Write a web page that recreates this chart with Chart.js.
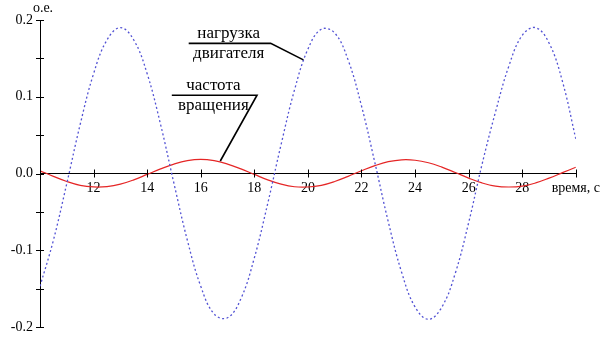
<!DOCTYPE html>
<html>
<head>
<meta charset="utf-8">
<script src="https://cdn.jsdelivr.net/npm/chart.js@4"></script>
<style>
  html, body { margin: 0; padding: 0; background: #fff; }
  canvas { display: block; }
</style>
</head>
<body>
<canvas id="myChart" width="606" height="343"></canvas>
<script>
// time, s
const times = [10, 10.5, 11, 11.5, 12, 12.5, 13, 13.5, 14, 14.5, 15, 15.5, 16, 16.5, 17, 17.5,
  18, 18.5, 19, 19.5, 20, 20.5, 21, 21.5, 22, 22.5, 23, 23.5, 24, 24.5, 25, 25.5,
  26, 26.5, 27, 27.5, 28, 28.5, 29, 29.5, 30];

// нагрузка двигателя (blue dotted)
const load = [-0.147, -0.087, -0.013, 0.064, 0.130, 0.174, 0.190, 0.174, 0.130, 0.064, -0.013, -0.087,
  -0.147, -0.183, -0.188, -0.163, -0.110, -0.039, 0.038, 0.109, 0.162, 0.188, 0.183, 0.148,
  0.088, 0.014, -0.063, -0.129, -0.174, -0.190, -0.174, -0.130, -0.064, 0.012, 0.080, 0.140,
  0.180, 0.190, 0.170, 0.120, 0.045];

// частота вращения (red solid)
const speed = [0.0036, -0.0037, -0.0104, -0.0154, -0.0175, -0.0170, -0.0139, -0.0083, -0.0012, 0.0060,
  0.0123, 0.0168, 0.0185, 0.0168, 0.0123, 0.0060, -0.0012, -0.0083, -0.0139, -0.0173, -0.0176,
  -0.0154, -0.0104, -0.0037, 0.0036, 0.0103, 0.0154, 0.0178, 0.0173, 0.0140, 0.0083, 0.0013,
  -0.0060, -0.0123, -0.0165, -0.0176, -0.0165, -0.0123, -0.0060, 0.0011, 0.0082];

const xTicks = [12, 14, 16, 18, 20, 22, 24, 26, 28];
const xTitle = 'время, с';
const yTitle = 'о.е.';

// callouts: text lines, underline from/to, and leader line to curve (data units)
const callouts = [
  { top: 'нагрузка', bottom: 'двигателя', x0: 15.55, x1: 18.61, y: 0.1695, tx: 19.83, ty: 0.148 },
  { top: 'частота', bottom: 'вращения', x0: 14.92, x1: 18.10, y: 0.102, tx: 16.73, ty: 0.0163 }
];

const serif = '"Liberation Serif", Tinos, "DejaVu Serif", "Times New Roman", serif';

const extras = {
  id: 'extras',
  afterDraw(chart) {
    const c = chart.ctx;
    const xs = chart.scales.x, ys = chart.scales.y;
    const y0 = ys.getPixelForValue(0);
    c.save();
    c.strokeStyle = '#000';
    c.lineWidth = 1;
    // tick marks crossing the axes
    xs.ticks.forEach(t => {
      const px = Math.round(xs.getPixelForValue(t.value)) + 0.5;
      c.beginPath(); c.moveTo(px, y0 - 4); c.lineTo(px, y0 + 4); c.stroke();
    });
    ys.ticks.forEach(t => {
      const py = Math.round(ys.getPixelForValue(t.value)) + 0.5;
      c.beginPath(); c.moveTo(xs.left - 4, py); c.lineTo(xs.left + 4, py); c.stroke();
    });
    // units label on top of the y axis
    c.fillStyle = '#000';
    c.font = '14px ' + serif;
    c.textAlign = 'center';
    c.textBaseline = 'middle';
    c.fillText(yTitle, xs.left + 3, 8);
    // callouts
    c.font = '17px ' + serif;
    c.lineWidth = 1.6;
    callouts.forEach(o => {
      const a = xs.getPixelForValue(o.x0), b = xs.getPixelForValue(o.x1);
      const py = ys.getPixelForValue(o.y);
      const cx = (a + b) / 2 - 1;
      c.fillText(o.top, cx, py - 10);
      c.fillText(o.bottom, cx, py + 10);
      c.beginPath();
      c.moveTo(a, py);
      c.lineTo(b, py);
      c.lineTo(xs.getPixelForValue(o.tx), ys.getPixelForValue(o.ty));
      c.stroke();
    });
    c.restore();
  }
};

new Chart(document.getElementById('myChart'), {
  type: 'line',
  data: {
    datasets: [{
      label: 'нагрузка двигателя',
      data: times.map((t, i) => ({ x: t, y: load[i] })),
      borderColor: '#5252d4',
      borderWidth: 1.3,
      borderDash: [2, 2.5],
      pointRadius: 0,
      tension: 0.4
    }, {
      label: 'частота вращения',
      data: times.map((t, i) => ({ x: t, y: speed[i] })),
      borderColor: '#e52626',
      borderWidth: 1.2,
      pointRadius: 0,
      tension: 0.4
    }]
  },
  options: {
    responsive: false,
    animation: false,
    devicePixelRatio: 1,
    layout: { padding: { left: 0, top: 20, right: 25, bottom: 16 } },
    plugins: { legend: { display: false }, tooltip: { enabled: false } },
    scales: {
      x: {
        type: 'linear',
        min: 10,
        max: 30,
        position: { y: 0 },
        grid: { display: false, drawTicks: false },
        border: { display: true, color: '#000', width: 1 },
        ticks: {
          stepSize: 2,
          maxRotation: 0,
          autoSkip: false,
          padding: 6,
          color: '#000',
          font: { family: serif, size: 14 },
          callback: v => v === 30 ? xTitle : (xTicks.includes(v) ? String(v) : '')
        }
      },
      y: {
        min: -0.2,
        max: 0.2,
        grid: { display: false, drawTicks: false },
        border: { display: true, color: '#000', width: 1 },
        afterFit: s => { s.width = 40; },
        ticks: {
          stepSize: 0.05,
          autoSkip: false,
          padding: 7,
          color: '#000',
          font: { family: serif, size: 14 },
          callback: v => Math.round(v * 100) % 10 === 0 ? (Math.round(v * 10) / 10).toFixed(1) : ''
        }
      }
    }
  },
  plugins: [extras]
});
</script>
</body>
</html>
